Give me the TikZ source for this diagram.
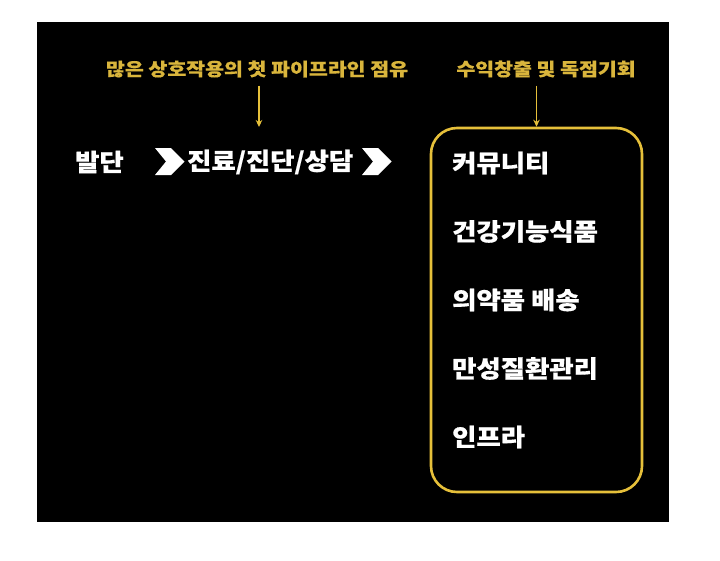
\documentclass[tikz,border=0pt]{standalone}
\usepackage{fontspec}
\newfontfamily\krfont{Noto Sans CJK KR}[FakeStretch=1.1,FakeBold=0.6]
\newfontfamily\krnote{Noto Sans CJK KR}[FakeStretch=1.14,FakeBold=0.4]
\usetikzlibrary{arrows.meta}
\definecolor{PLGold}{HTML}{E6C03A}
\definecolor{PLGoldText}{HTML}{D9B53C}
\definecolor{PLInk}{HTML}{FFFFFF}
\definecolor{PLBack}{HTML}{000000}
\tikzset{
  flow/.style={-{Stealth[length=7pt,width=6.5pt]},PLGold,line width=1.6pt},
  stage/.style={text=PLInk,font=\krfont\bfseries\fontsize{24}{27}\selectfont,
                inner sep=0pt,anchor=west},
  item/.style={stage},
  note/.style={text=PLGoldText,font=\krnote\bfseries\fontsize{18}{21}\selectfont,
               inner xsep=2pt,inner ysep=8pt},
  panel/.style={draw=PLGold,line width=2.6pt,rounded corners=26pt},
  chevron/.style={fill=PLInk},
}
\begin{document}
\begin{tikzpicture}[x=1pt,y=-1pt]
    \useasboundingbox[fill=white] (0,0) rectangle (720,560);
    \fill[PLBack] (37,22) rectangle (669,522);

    % top notes
    \node[note] (note1) at (257,69) {많은 상호작용의 첫 파이프라인 점유};
    \node[note] (note2) at (546,69) {수익창출 및 독점기회};

    % flow of the patient
    \node[stage] (onset)   at (75,162)  {발단};
    \node[stage] (consult) at (187,162) {진료/진단/상담};
    \foreach \x in {155,362}{
      \fill[chevron] (\x,148) -- ++(16,0) -- ++(13.5,13.5) -- ++(-13.5,13.5)
        -- ++(-16,0) -- ++(11,-13.5) -- cycle;
    }

    % revenue box
    \node[panel,minimum width=211pt,minimum height=364pt] (offer) at (536.5,310) {};
    \foreach \t [count=\i from 0] in {커뮤니티,건강기능식품,의약품 배송,만성질환관리,인프라}{
      \node[item] (item\i) at (452,{163+68.5*\i}) {\t};
    }

    \coordinate (tip1) at (259,127);
    \draw[flow] (note1.south -| tip1) -- (tip1);
    \draw[flow] (note2.south -| offer.north) -- (offer.north);
  \end{tikzpicture}
\end{document}
